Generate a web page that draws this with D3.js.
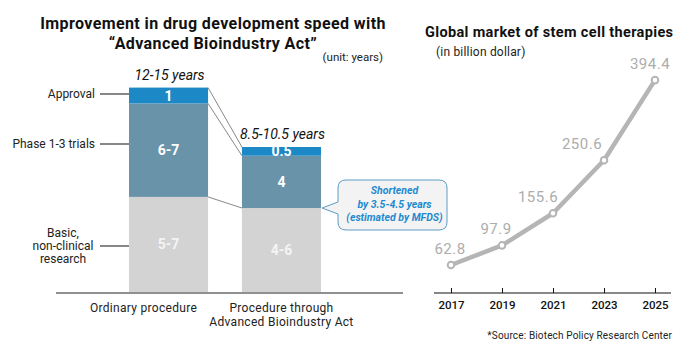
<!DOCTYPE html>
<html>
<head>
<meta charset="utf-8">
<script src="https://cdn.jsdelivr.net/npm/d3@7"></script>
<style>
  body { margin: 0; background: #fff; }
  text { font-family: Roboto, "DejaVu Sans", sans-serif; }
</style>
</head>
<body>
<script>
var width = 700;
var height = 350;

// left chart data (heights, in years)
var procedures = ["Ordinary procedure", "Procedure through\nAdvanced Bioindustry Act"];
var stages = ["Basic,\nnon-clinical\nresearch", "Phase 1-3 trials", "Approval"];
var ordinaryYears = [6, 5.9, 1];
var actYears = [5.3, 3.3, 0.55];
var ordinaryLabels = ["5-7", "6-7", "1"];
var actLabels = ["4-6", "4", "0.5"];
var totalLabels = ["12-15 years", "8.5-10.5 years"];

// right chart data
var years = ["2017", "2019", "2021", "2023", "2025"];
var market = [62.8, 97.9, 155.6, 250.6, 394.4];

var stageColors = ["#d3d3d3", "#6993a9", "#1c89c6"];

var svg = d3.select("body")
  .append("svg")
  .attr("width", width)
  .attr("height", height);

// ---------- left chart ----------
svg.append("text").attr("x", 213).attr("y", 29).attr("text-anchor", "middle")
  .style("font-size", "16px").style("font-weight", "bold").style("letter-spacing", "0.4px")
  .attr("fill", "#111")
  .text("Improvement in drug development speed with");
svg.append("text").attr("x", 213).attr("y", 49).attr("text-anchor", "middle")
  .style("font-size", "16px").style("font-weight", "bold").style("letter-spacing", "0.4px")
  .attr("fill", "#111")
  .text("\u201cAdvanced Bioindustry Act\u201d");
svg.append("text").attr("x", 383).attr("y", 61).attr("text-anchor", "end")
  .style("font-size", "11.5px").attr("fill", "#222")
  .text("(unit: years)");

var x = d3.scaleBand().domain(procedures).range([129, 321]).paddingInner(0.3).paddingOuter(0);
var y = d3.scaleLinear().domain([0, 13]).range([292, 86]);

var series = [ordinaryYears, actYears];
var labels = [ordinaryLabels, actLabels];

var stacks = series.map(function(vals, i) {
  var acc = 0;
  return vals.map(function(v, j) {
    var seg = { proc: procedures[i], y0: acc, y1: acc + v, label: labels[i][j], stage: j };
    acc += v;
    return seg;
  });
});

// connector lines between bars
var b1 = x(procedures[0]) + x.bandwidth();
var b2 = x(procedures[1]);
[2, 1, 0].forEach(function(j) {
  var s1 = stacks[0][j], s2 = stacks[1][j];
  svg.append("line")
    .attr("x1", b1).attr("y1", y(s1.y1))
    .attr("x2", b2).attr("y2", y(s2.y1))
    .attr("stroke", "#888").attr("stroke-width", 1);
});

var groups = svg.selectAll("g.bar")
  .data(stacks)
  .enter()
  .append("g")
  .attr("class", "bar");

groups.selectAll("rect")
  .data(function(d) { return d; })
  .enter()
  .append("rect")
  .attr("x", function(d) { return x(d.proc); })
  .attr("width", x.bandwidth())
  .attr("y", function(d) { return y(d.y1); })
  .attr("height", function(d) { return y(d.y0) - y(d.y1); })
  .attr("fill", function(d) { return stageColors[d.stage]; });

groups.selectAll("text")
  .data(function(d) { return d; })
  .enter()
  .append("text")
  .attr("x", function(d) { return x(d.proc) + x.bandwidth() / 2; })
  .attr("y", function(d) { return (y(d.y0) + y(d.y1)) / 2 + 5; })
  .attr("text-anchor", "middle")
  .style("font-size", "14px").style("font-weight", "bold")
  .attr("fill", function(d) { return d.stage == 0 ? "#f4f4f4" : "#fff"; })
  .text(function(d) { return d.label; });

// totals on top
stacks.forEach(function(s, i) {
  svg.append("text")
    .attr("x", x(procedures[i]) + x.bandwidth() / 2 + 1)
    .attr("y", y(s[2].y1) - 8)
    .attr("text-anchor", "middle")
    .style("font-size", "14px").style("font-style", "italic").attr("fill", "#111")
    .text(totalLabels[i]);
});

// baseline
svg.append("line").attr("x1", 56).attr("x2", 403).attr("y1", 293).attr("y2", 293)
  .attr("stroke", "#222").attr("stroke-width", 1.2);

// category labels
procedures.forEach(function(p) {
  var t = svg.append("text")
    .attr("x", x(p) + x.bandwidth() / 2 + (p == procedures[1] ? 0 : -25))
    .attr("y", 312)
    .attr("text-anchor", "middle")
    .style("font-size", "12px").style("letter-spacing", "0.3px").attr("fill", "#222");
  p.split("\n").forEach(function(line, k) {
    t.append("tspan").attr("x", t.attr("x")).attr("dy", k ? 13.5 : 0).text(line);
  });
});

// stage labels with leader lines
var leaderY = [246, 144, 94];
stages.forEach(function(s, j) {
  var lines = s.split("\n");
  var cy = leaderY[j];
  svg.append("line").attr("x1", 100).attr("x2", x(procedures[0]))
    .attr("y1", cy).attr("y2", cy).attr("stroke", "#111").attr("stroke-width", 1);
  var t = svg.append("text")
    .attr("x", lines.length > 1 ? 63 : 95)
    .attr("y", cy + 4 - (lines.length - 1) * 13 / 2)
    .attr("text-anchor", lines.length > 1 ? "middle" : "end")
    .style("font-size", "12px").attr("fill", "#222");
  lines.forEach(function(line, k) {
    t.append("tspan").attr("x", t.attr("x")).attr("dy", k ? 13 : 0).text(line);
  });
});

// callout
var bx = 338, by = 180, bw = 109, bh = 50;
var tipX = x(procedures[1]) + x.bandwidth() + 1;
var tipY = y(stacks[1][0].y1);
svg.append("path")
  .attr("d", "M" + (bx + 8) + "," + by +
    "H" + (bx + bw - 8) + "Q" + (bx + bw) + "," + by + " " + (bx + bw) + "," + (by + 8) +
    "V" + (by + bh - 8) + "Q" + (bx + bw) + "," + (by + bh) + " " + (bx + bw - 8) + "," + (by + bh) +
    "H" + (bx + 8) + "Q" + bx + "," + (by + bh) + " " + bx + "," + (by + bh - 8) +
    "V" + (by + 34) + "L" + tipX + "," + tipY +
    "L" + bx + "," + (by + 22) +
    "V" + (by + 8) + "Q" + bx + "," + by + " " + (bx + 8) + "," + by + "Z")
  .attr("fill", "#f3f3f3").attr("stroke", "#5b9cc6").attr("stroke-width", 1);
var calloutLines = ["Shortened", "by 3.5-4.5 years", "(estimated by MFDS)"];
calloutLines.forEach(function(l, k) {
  svg.append("text").attr("x", bx + bw / 2 + 2).attr("y", by + 14 + k * 13.5)
    .attr("text-anchor", "middle")
    .style("font-size", "10.5px").style("font-style", "italic").style("font-weight", "bold")
    .attr("fill", "#1f8ad0").text(l);
});

// ---------- right chart ----------
svg.append("text").attr("x", 425).attr("y", 37)
  .style("font-size", "14.5px").style("font-weight", "bold").style("letter-spacing", "0.35px")
  .attr("fill", "#111")
  .text("Global market of stem cell therapies");
svg.append("text").attr("x", 436).attr("y", 56)
  .style("font-size", "12px").style("letter-spacing", "0.2px").attr("fill", "#222")
  .text("(in billion dollar)");

var xr = d3.scalePoint().domain(years).range([451, 655]);
var yr = d3.scaleLinear().domain([0, 400]).range([300, 77]);

var xAxis = d3.axisBottom(xr).tickSize(-5).tickPadding(8);
var ax = svg.append("g").attr("transform", "translate(0,293)").call(xAxis);
ax.select(".domain").attr("d", "M434,0H671").attr("stroke", "#111").attr("stroke-width", 1.2);
ax.selectAll(".tick line").attr("stroke", "#111");
ax.selectAll(".tick text").style("font-size", "11.5px").attr("fill", "#111")
  .style("font-family", "Roboto, sans-serif").style("font-weight", "500");

var points = years.map(function(yy, i) { return { year: yy, value: market[i] }; });

svg.append("path")
  .datum(points)
  .attr("d", d3.line()
    .x(function(d) { return xr(d.year); })
    .y(function(d) { return yr(d.value); }))
  .attr("fill", "none").attr("stroke", "#b5b5b5").attr("stroke-width", 4.5)
  .attr("stroke-linejoin", "round");

svg.selectAll("circle.pt")
  .data(points)
  .enter()
  .append("circle")
  .attr("class", "pt")
  .attr("cx", function(d) { return xr(d.year); })
  .attr("cy", function(d) { return yr(d.value); })
  .attr("r", 3.3)
  .attr("fill", "#fff").attr("stroke", "#b5b5b5").attr("stroke-width", 2);

var labelDx = [-1, -6, -15, -22, -5];
svg.selectAll("text.val")
  .data(points)
  .enter()
  .append("text")
  .attr("class", "val")
  .attr("x", function(d, i) { return xr(d.year) + labelDx[i]; })
  .attr("y", function(d) { return yr(d.value) - 11; })
  .attr("text-anchor", "middle")
  .style("font-size", "15px").style("letter-spacing", "0.5px").attr("fill", "#adadad")
  .text(function(d) { return d.value.toFixed(1); });

svg.append("text").attr("x", 672).attr("y", 339).attr("text-anchor", "end")
  .style("font-size", "10px").style("letter-spacing", "0.15px").attr("fill", "#222")
  .text("*Source: Biotech Policy Research Center");
</script>
</body>
</html>
